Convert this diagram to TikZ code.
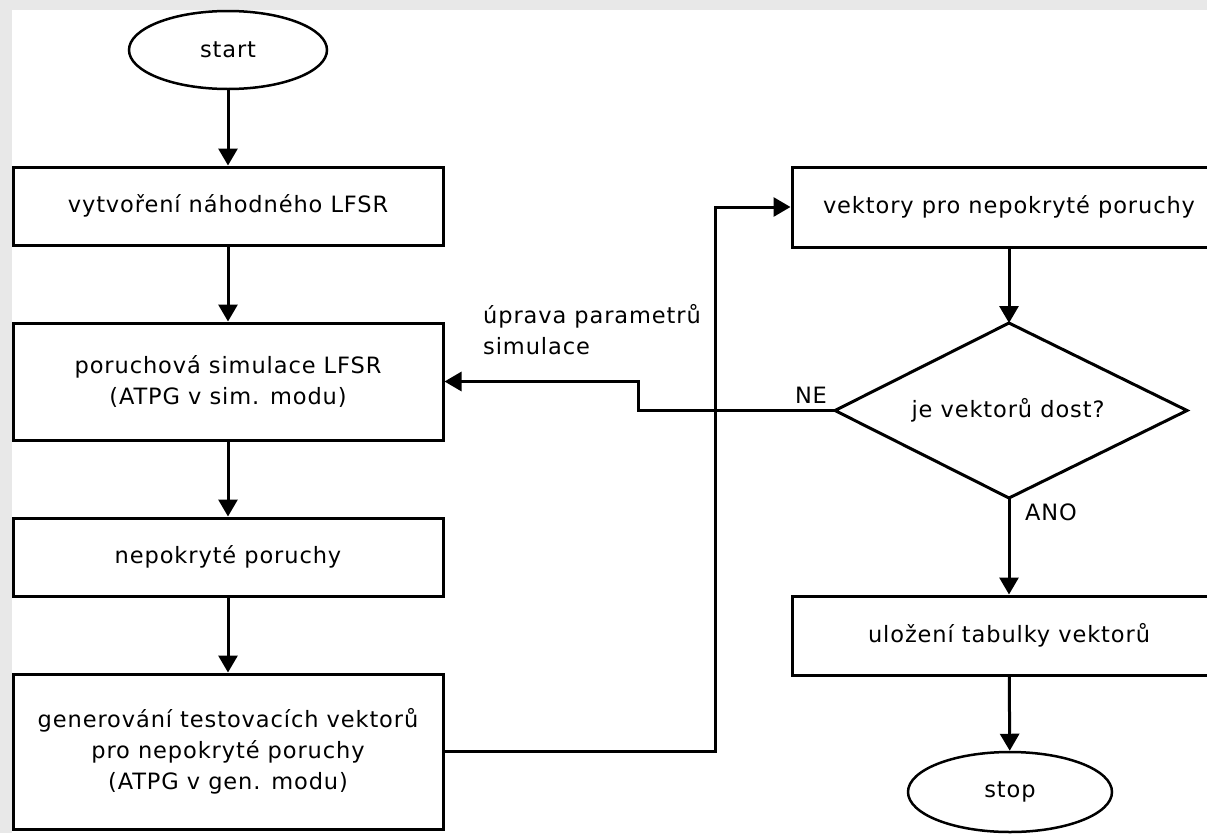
\documentclass[tikz,border=0pt]{standalone}
\usepackage{fontspec}
\setmainfont{DejaVu Sans}[LetterSpace=4]
\usetikzlibrary{arrows.meta,shapes.geometric}
\definecolor{bggray}{RGB}{232,232,232}
\begin{document}
\begin{tikzpicture}[x=1pt,y=-1pt,
  every node/.style={font=\fontsize{22.5}{31}\selectfont},
  box/.style={draw,line width=3pt,minimum width=430pt,align=center,inner sep=0pt},
  term/.style={draw,ellipse,line width=2.5pt,minimum width=198pt,minimum height=78pt,inner sep=0pt},
  decision/.style={line width=3pt,line join=miter},
  arr/.style={line width=3pt,-{Triangle[length=17pt,width=19pt]}},
  lbl/.style={inner sep=0pt}]
\useasboundingbox (0,0) rectangle (1207,833);
\clip (0,0) rectangle (1207,833);
\fill[bggray] (0,0) rectangle (1207,833);
\fill[white] (12,10) rectangle (1207,833);

\node[term] (start) at (228,50) {start};
\node[box,minimum height=78pt] (b1) at (228,206) {vytvoření náhodného LFSR};
\node[box,minimum height=117pt] (b2) at (228,381.5) {poruchová simulace LFSR\\(ATPG v sim. modu)};
\node[box,minimum height=78pt] (b3) at (228,557) {nepokryté poruchy};
\node[box,minimum height=155pt] (b4) at (228,751.5) {generování testovacích vektorů\\pro nepokryté poruchy\\(ATPG v gen. modu)};
\node[box,minimum width=434pt,minimum height=80pt] (b5) at (1009,207) {vektory pro nepokryté poruchy};
\node[box,minimum width=434pt,minimum height=79pt] (b6) at (1009,635.5) {uložení tabulky vektorů};
\node[term,minimum width=204pt,minimum height=80pt] (stop) at (1010,792) {stop};

% decision diamond
\coordinate (diaN) at (1009,323);
\coordinate (diaS) at (1009,498);
\coordinate (diaW) at (835,410.5);
\coordinate (diaE) at (1187,410.5);
\draw[decision] (diaN) -- (diaE) -- (diaS) -- (diaW) -- cycle;
\node (dia) at (1008,410.5) {je vektorů dost?};

\node[lbl,anchor=west,align=left] (lblup) at (483,330) {úprava parametrů\\simulace};
\node[lbl] (lblne) at (811,395) {NE};
\node[lbl] (lblano) at (1051,512) {ANO};

\coordinate (j1) at (715,751.5);
\coordinate (j2) at (638,410.5);

\draw[arr] (start) -- (b1);
\draw[arr] (b1) -- (b2);
\draw[arr] (b2) -- (b3);
\draw[arr] (b3) -- (b4);
\draw[arr] (b4.east) -- (j1) |- (b5.west);
\draw[arr] (b5) -- (diaN);
\draw[arr] (diaW) -- (j2) |- (b2.east);
\draw[arr] (diaS) -- (b6);
\draw[arr] (b6) -- (stop);
\end{tikzpicture}
\end{document}
